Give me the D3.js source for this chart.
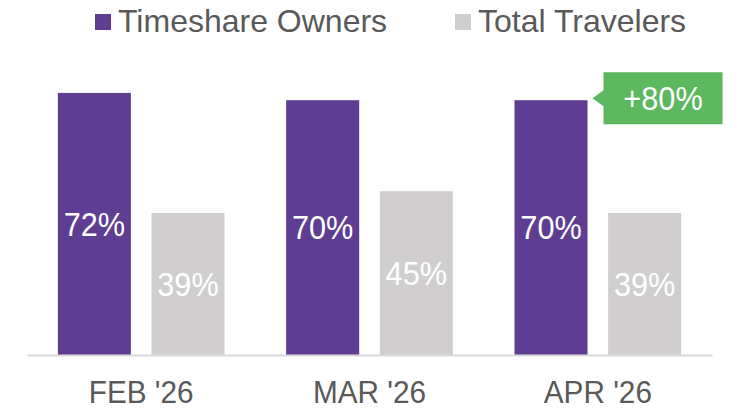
<!DOCTYPE html>
<html>
<head>
<meta charset="utf-8">
<script src="https://cdn.jsdelivr.net/npm/d3@7"></script>
<style>
  body { margin: 0; background: #fff; }
  text { font-family: "Liberation Sans", Arial, sans-serif; }
</style>
</head>
<body>
<div id="chart"></div>
<script>
// data
var categories = ["FEB '26", "MAR '26", "APR '26"];
var seriesNames = ["Timeshare Owners", "Total Travelers"];
var ownersValues = [72, 70, 70];
var travelersValues = [39, 45, 39];
var calloutText = "+80%";
var calloutIndex = 2;

var colors = ["#5e3d92", "#d0cecf"];
var squeeze = "scale(0.93,1)"; // labels in the original are a bit narrow

let width = 738, height = 409;
let margin = { top: 0, right: 26, bottom: 54, left: 27 };
let baseY = height - margin.bottom;

var svg = d3.select("#chart").append("svg")
    .attr("width", width)
    .attr("height", height);

var x0 = d3.scaleBand()
    .domain(categories)
    .range([margin.left, width - margin.right])
    .paddingInner(0.27)
    .paddingOuter(0.135);

var x1 = d3.scaleBand()
    .domain(seriesNames)
    .range([0, x0.bandwidth()])
    .paddingInner(0.22);

var yScale = d3.scaleLinear()
    .domain([0, 100])
    .range([baseY, baseY - 364]);

var rows = categories.map(function (c, i) {
    return [
        { cat: c, s: seriesNames[0], v: ownersValues[i], k: 0 },
        { cat: c, s: seriesNames[1], v: travelersValues[i], k: 1 }
    ];
});

var groups = svg.selectAll(".grp")
    .data(rows)
    .enter().append("g")
    .attr("class", "grp")
    .attr("transform", d => "translate(" + x0(d[0].cat) + ",0)");

groups.selectAll("rect")
    .data(d => d)
    .enter().append("rect")
    .attr("x", d => x1(d.s))
    .attr("y", d => yScale(d.v))
    .attr("width", x1.bandwidth())
    .attr("height", d => yScale(0) - yScale(d.v))
    .attr("fill", d => colors[d.k]);

groups.selectAll(".val")
    .data(d => d)
    .enter().append("text")
    .attr("class", "val")
    .attr("transform", d => "translate(" + (x1(d.s) + x1.bandwidth() / 2) + "," +
        ((yScale(d.v) + yScale(0)) / 2) + ")" + squeeze)
    .attr("dy", "0.36em")
    .attr("text-anchor", "middle")
    .attr("fill", "#fff")
    .style("font-size", "33px")
    .text(d => d.v + "%");

// x axis
var xAxis = svg.append("g")
    .attr("transform", "translate(0," + baseY + ")")
    .call(d3.axisBottom(x0).tickSize(0).tickPadding(25).tickSizeOuter(0));
xAxis.select(".domain").attr("stroke", "#d9d9d9").attr("stroke-width", 2);
xAxis.selectAll("text")
    .attr("fill", "#595959")
    .attr("transform", squeeze)
    .style("font-size", "32px")
    .style("font-family", "'Liberation Sans', Arial, sans-serif");

// legend
var legendX = [95, 455];
var legend = svg.selectAll(".leg")
    .data(seriesNames)
    .enter().append("g")
    .attr("class", "leg")
    .attr("transform", (d, i) => "translate(" + legendX[i] + ",14)");
legend.append("rect")
    .attr("width", 16).attr("height", 16)
    .attr("fill", (d, i) => colors[i]);
legend.append("text")
    .attr("x", 23).attr("y", 18)
    .attr("fill", "#595959")
    .style("font-size", "32px")
    .text(d => d);

// callout
var barRight = x0(categories[calloutIndex]) + x1(seriesNames[0]) + x1.bandwidth();
var cy = yScale(ownersValues[calloutIndex]) - 2;
var bx = barRight + 16, bw = 119, bh = 52;
var callout = svg.append("g");
callout.append("path")
    .attr("d", "M" + bx + "," + (cy - bh / 2) + "H" + (bx + bw) + "V" + (cy + bh / 2) + "H" + bx +
        "V" + (cy + 8) + "L" + (barRight + 5) + "," + cy + "L" + bx + "," + (cy - 8) + "Z")
    .attr("fill", "#5cb85f");
callout.append("text")
    .attr("transform", "translate(" + (bx + bw / 2) + "," + cy + ")" + squeeze)
    .attr("dy", "0.36em")
    .attr("text-anchor", "middle")
    .attr("fill", "#fff")
    .style("font-size", "33px")
    .text(calloutText);
</script>
</body>
</html>
